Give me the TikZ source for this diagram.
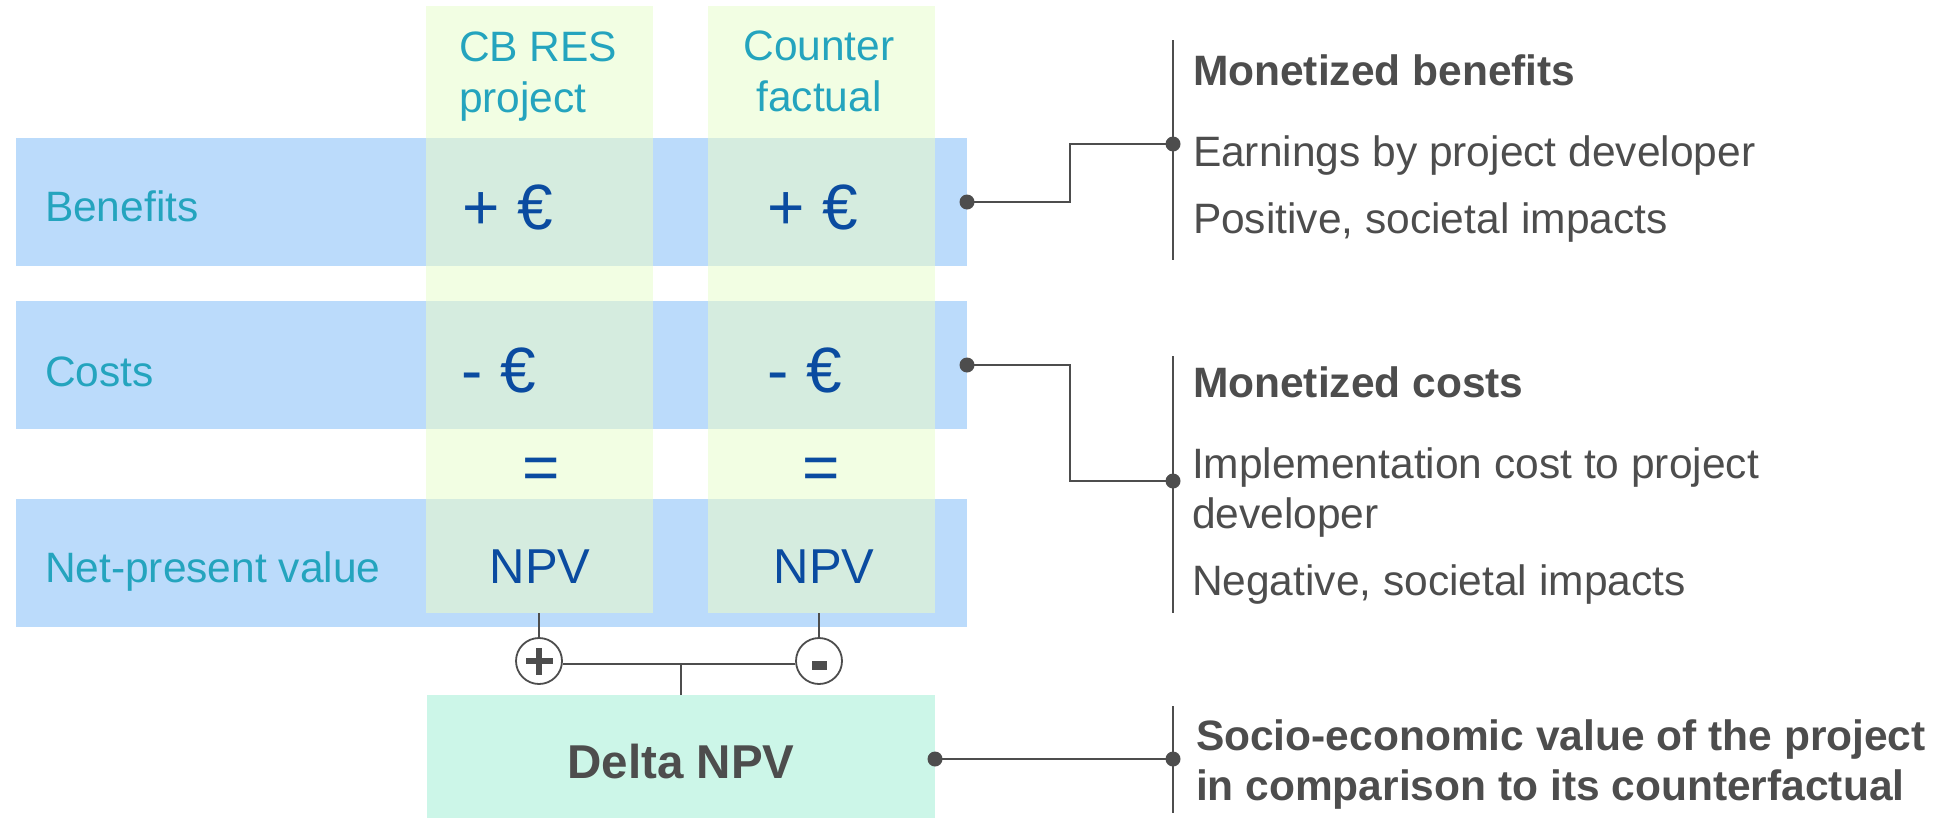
\documentclass[tikz,border=0pt]{standalone}
\usepackage{fontspec}
\setmainfont{Liberation Sans}
\definecolor{rowblue}{HTML}{BBDBFB}
\definecolor{colyel}{HTML}{F2FEE3}
\definecolor{overlapc}{HTML}{D5ECDF}
\definecolor{deltagreen}{HTML}{CCF6E8}
\definecolor{labteal}{HTML}{24A4BE}
\definecolor{numblue}{HTML}{0A4BA0}
\definecolor{dgray}{HTML}{4D4D4D}
\tikzset{
  band/.style={draw=none, inner sep=0pt, outer sep=0pt, anchor=north west},
  lab/.style={inner sep=0pt, outer sep=0pt, text=labteal, font=\fontsize{42.5}{50}\selectfont},
  num/.style={inner sep=0pt, outer sep=0pt, text=numblue, font=\fontsize{64}{72}\selectfont},
  npv/.style={inner sep=0pt, outer sep=0pt, text=numblue, font=\fontsize{49}{57}\selectfont},
  rtext/.style={inner sep=0pt, outer sep=0pt, anchor=base west, text=dgray, font=\fontsize{42.5}{50}\selectfont},
  rhead/.style={rtext, font=\fontsize{42.5}{50}\selectfont\bfseries},
  conn/.style={draw=dgray, line width=2.2pt},
  brack/.style={draw=dgray, line width=2pt},
  thinl/.style={draw=dgray, line width=1.5pt},
  sign/.style={circle, draw=dgray, line width=1.8pt, fill=white, minimum size=46pt, inner sep=0pt},
  dotc/.style={fill=dgray},
}
\begin{document}
\begin{tikzpicture}[x=1pt,y=-1pt]
\useasboundingbox (0,0) rectangle (1954,819);
% columns
\node[band, fill=colyel, minimum width=227pt, minimum height=607pt] (col1) at (426,6) {};
\node[band, fill=colyel, minimum width=227pt, minimum height=607pt] (col2) at (708,6) {};
% rows
\node[band, fill=rowblue, minimum width=951pt, minimum height=128pt] (rowB) at (16,138) {};
\node[band, fill=rowblue, minimum width=951pt, minimum height=128pt] (rowC) at (16,301) {};
\node[band, fill=rowblue, minimum width=951pt, minimum height=128pt] (rowN) at (16,499) {};
% overlaps
\foreach \cx in {426,708}{
  \fill[overlapc] (\cx,138) rectangle ++(227,128);
  \fill[overlapc] (\cx,301) rectangle ++(227,128);
  \fill[overlapc] (\cx,499) rectangle ++(227,114);
}
% delta box
\node[band, fill=deltagreen, minimum width=508pt, minimum height=123pt] (delta) at (427,695) {};
\node[inner sep=0pt, anchor=base, text=dgray, font=\fontsize{47.5}{55}\selectfont\bfseries] (deltat) at (681,778) {Delta NPV};

% column headers
\node[lab, anchor=base west] (h1a) at (459,61) {CB RES};
\node[lab, anchor=base west] (h1b) at (459,112) {project};
\node[lab, anchor=base] (h2a) at (819,60) {Counter};
\node[lab, anchor=base] (h2b) at (819,111) {factual};

% row labels
\node[lab, anchor=base west] (lb) at (45,221) {Benefits};
\node[lab, anchor=base west] (lc) at (45,386) {Costs};
\node[lab, anchor=base west] (ln) at (45,582) {Net-present value};

% values
\node[num, anchor=base west] (pb1) at (462,229) {+ €};
\node[num, anchor=base west] (pb2) at (767,229) {+ €};
\node[num, anchor=base west] (mc1) at (461,392) {- €};
\node[num, anchor=base west] (mc2) at (767,392) {- €};
\node[num, anchor=base] (eq1) at (541,489) {=};
\node[num, anchor=base] (eq2) at (821,489) {=};
\node[npv, anchor=base] (n1) at (540,583) {NPV};
\node[npv, anchor=base] (n2) at (824,583) {NPV};

% plus / minus
\node[sign] (plus) at (539,661) {};
\node[sign] (minus) at (819,661) {};
\fill[dgray] ([xshift=-13.5pt,yshift=-3pt]plus.center) rectangle ([xshift=13.5pt,yshift=3pt]plus.center);
\fill[dgray] ([xshift=-3pt,yshift=-13.5pt]plus.center) rectangle ([xshift=3pt,yshift=13.5pt]plus.center);
\fill[dgray] ([xshift=-7.5pt,yshift=0pt]minus.center) rectangle ([xshift=7.5pt,yshift=-9pt]minus.center);
\draw[thinl] (col1.south -| plus.north) -- (plus.north);
\draw[thinl] (col2.south -| minus.north) -- (minus.north);
\coordinate (hl) at ([yshift=-3pt]plus.east);
\coordinate (hr) at ([yshift=-3pt]minus.west);
\draw[thinl] (hl) -- (hr);
\coordinate (mid) at (delta.north |- hl);
\draw[thinl] (delta.north) -- (mid);

% right brackets
\coordinate (b1t) at (1173,40);
\coordinate (b1b) at (1173,260);
\coordinate (b1d) at (1173,144);
\coordinate (b2t) at (1173,356);
\coordinate (b2b) at (1173,613);
\coordinate (b2d) at (1173,481);
\coordinate (b3t) at (1173,706);
\coordinate (b3b) at (1173,813);
\coordinate (b3d) at (1173,759);
\draw[brack] (b1t) -- (b1b);
\draw[brack] (b2t) -- (b2b);
\draw[brack] (b3t) -- (b3b);

% connectors
\draw[conn] (rowB.east) -- ++(103,0) |- (b1d);
\draw[conn] (rowC.east) -- ++(103,0) |- (b2d);
\coordinate (dstart) at (delta.east |- b3d);
\draw[conn] (dstart) -- (b3d);
\foreach \p in {rowB.east, rowC.east, dstart, b1d, b2d, b3d}
  \fill[dotc] (\p) circle (7.5pt);

% right texts
\node[rhead] (mb) at (1193,85) {Monetized benefits};
\node[rtext] (mb1) at (1193,166) {Earnings by project developer};
\node[rtext] (mb2) at (1193,233) {Positive, societal impacts};
\node[rhead] (mcst) at (1193,397) {Monetized costs};
\node[rtext] (mc1t) at (1192,478) {Implementation cost to project};
\node[rtext] (mc1u) at (1192,528) {developer};
\node[rtext] (mc2t) at (1192,595) {Negative, societal impacts};
\node[rhead] (se1) at (1196,750) {Socio-economic value of the project};
\node[rhead] (se2) at (1196,800) {in comparison to its counterfactual};
\end{tikzpicture}
\end{document}
